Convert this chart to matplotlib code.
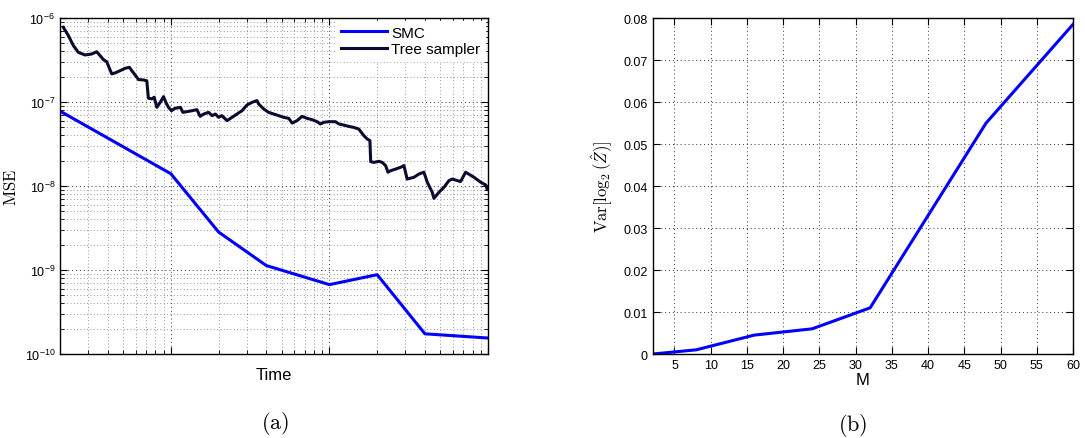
import matplotlib
matplotlib.use("Agg")
import matplotlib.pyplot as plt
from matplotlib.ticker import LogLocator, NullFormatter

plt.rcParams['font.family'] = ['Liberation Sans', 'DejaVu Sans']
plt.rcParams['mathtext.fontset'] = 'custom'
plt.rcParams['mathtext.rm'] = 'Liberation Sans'
plt.rcParams['mathtext.it'] = 'Liberation Sans:italic'
plt.rcParams['mathtext.bf'] = 'Liberation Sans:bold'

# (a) MSE against time, log-log
smc_time = [2, 10, 20, 40, 100, 200, 400, 1000]
smc_mse = [7.8e-8, 1.4e-8, 2.83e-9, 1.13e-9, 6.7e-10, 8.8e-10, 1.74e-10, 1.55e-10]

tree_time = [2.10, 2.26, 2.43, 2.61, 2.88, 3.17, 3.41, 3.58, 3.76, 3.94,
             4.24, 4.45, 4.79, 5.15, 5.48, 5.67, 5.95, 6.25, 6.72, 7.05,
             7.22, 7.59, 7.85, 8.16, 8.57, 8.99, 9.30, 9.66, 10.1, 10.6,
             11.5, 11.9, 12.6, 13.6, 14.6, 15.3, 16.1, 17.3, 18.2, 19.1,
             20.0, 21.0, 22.6, 24.3, 26.1, 28.1, 30.2, 32.5, 34.9, 35.8,
             38.5, 41.4, 44.5, 47.9, 51.5, 55.4, 58.1, 62.5, 67.2, 72.2,
             77.7, 83.6, 87.8, 92.1, 99.0, 109, 115, 123, 132, 142,
             153, 165, 173, 180, 182, 191, 205, 215, 226, 234,
             243, 261, 281, 295, 309, 341, 367, 394, 414, 445,
             456, 490, 527, 567, 595, 671, 722, 816, 899, 967,
             990, 1000]
tree_mse = [7.74e-7, 6.16e-7, 4.69e-7, 3.90e-7, 3.63e-7, 3.73e-7, 3.97e-7, 3.56e-7, 3.19e-7, 3.02e-7,
            2.16e-7, 2.22e-7, 2.36e-7, 2.52e-7, 2.59e-7, 2.36e-7, 2.10e-7, 1.85e-7, 1.83e-7, 1.79e-7,
            1.11e-7, 1.09e-7, 1.14e-7, 8.64e-8, 9.91e-8, 1.16e-7, 9.91e-8, 8.64e-8, 7.88e-8, 8.41e-8,
            8.64e-8, 7.53e-8, 7.67e-8, 7.88e-8, 8.11e-8, 6.75e-8, 7.19e-8, 7.53e-8, 6.88e-8, 7.19e-8,
            6.57e-8, 6.88e-8, 6.00e-8, 6.57e-8, 7.19e-8, 7.88e-8, 9.21e-8, 9.91e-8, 1.04e-7, 9.46e-8,
            8.26e-8, 7.53e-8, 7.19e-8, 6.88e-8, 6.57e-8, 6.39e-8, 5.62e-8, 6.00e-8, 6.75e-8, 6.39e-8,
            6.17e-8, 5.83e-8, 5.47e-8, 5.73e-8, 5.83e-8, 5.83e-8, 5.47e-8, 5.32e-8, 5.13e-8, 4.99e-8,
            4.77e-8, 3.97e-8, 3.63e-8, 3.47e-8, 1.95e-8, 1.91e-8, 1.97e-8, 1.91e-8, 1.75e-8, 1.46e-8,
            1.52e-8, 1.59e-8, 1.67e-8, 1.75e-8, 1.21e-8, 1.27e-8, 1.39e-8, 1.46e-8, 1.11e-8, 8.41e-9,
            7.13e-9, 8.41e-9, 9.64e-9, 1.16e-8, 1.21e-8, 1.13e-8, 1.46e-8, 1.27e-8, 1.11e-8, 1.03e-8,
            9.04e-9, 9.64e-9]

# (b) variance of log2 Z-hat against M
m_values = [2, 8, 16, 24, 32, 48, 60]
var_values = [0.0, 0.001, 0.0045, 0.006, 0.011, 0.055, 0.0785]
var_ticks = [0, 0.01, 0.02, 0.03, 0.04, 0.05, 0.06, 0.07, 0.08]
var_ticklabels = ['0', '0.01', '0.02', '0.03', '0.04', '0.05', '0.06', '0.07', '0.08']
m_ticks = [5, 10, 15, 20, 25, 30, 35, 40, 45, 50, 55, 60]

fig = plt.figure(figsize=(10.85, 4.39), dpi=100)
ax1 = fig.add_axes([0.0553, 0.1913, 0.3945, 0.7654])
ax2 = fig.add_axes([0.6016, 0.1913, 0.3874, 0.7654])

grid_dots = (0, (1, 3))

ax1.plot(smc_time, smc_mse, color='#0000ff', lw=2.2, label='SMC')
ax1.plot(tree_time, tree_mse, color='#0b0b30', lw=2.2, label='Tree sampler')
ax1.set_xscale('log')
ax1.set_yscale('log')
ax1.set_xlim(2, 1000)
ax1.set_ylim(1e-10, 1e-6)
ax1.yaxis.set_major_locator(LogLocator(base=10, numticks=10))
ax1.yaxis.set_minor_locator(LogLocator(base=10, subs=range(2, 10), numticks=20))
ax1.xaxis.set_major_formatter(NullFormatter())
ax1.xaxis.set_minor_formatter(NullFormatter())
ax1.yaxis.set_minor_formatter(NullFormatter())
ax1.grid(True, which='major', ls=grid_dots, color='0.2', lw=0.7)
ax1.grid(True, which='minor', ls=grid_dots, color='0.45', lw=0.6)
ax1.set_xlabel('Time', fontsize=12, labelpad=6)
ax1.set_ylabel(r'$\mathrm{MSE}$', fontsize=12, math_fontfamily='cm', labelpad=4)
leg = ax1.legend(loc='upper right', fontsize=11, handlelength=3.0, frameon=True,
                 fancybox=False, borderaxespad=0.2, borderpad=0.3, labelspacing=0.15,
                 handletextpad=0.3)
leg.get_frame().set_edgecolor('white')
leg.get_frame().set_alpha(1)

ax2.plot(m_values, var_values, color='#0000ff', lw=2.2)
ax2.set_xlim(2, 60)
ax2.set_ylim(0, 0.08)
ax2.set_xticks(m_ticks)
ax2.set_yticks(var_ticks)
ax2.set_yticklabels(var_ticklabels)
ax2.grid(True, ls=grid_dots, color='0.2', lw=0.7)
ax2.set_xlabel('M', fontsize=12, labelpad=1)
ax2.set_ylabel(r'$\mathrm{Var}[\log_2(\hat{Z})]$', fontsize=12, math_fontfamily='cm', labelpad=6)

for ax in (ax1, ax2):
    ax.tick_params(which='both', direction='in', top=True, right=True, labelsize=9)
    ax.tick_params(which='major', length=5)
    ax.tick_params(which='minor', length=3)
    for s in ax.spines.values():
        s.set_linewidth(1.0)

fig.text(0.2535, 0.035, r'$\mathrm{(a)}$', ha='center', va='center', fontsize=16, math_fontfamily='cm')
fig.text(0.786, 0.03, r'$\mathrm{(b)}$', ha='center', va='center', fontsize=16, math_fontfamily='cm')

fig.savefig('out.png', dpi=100)
